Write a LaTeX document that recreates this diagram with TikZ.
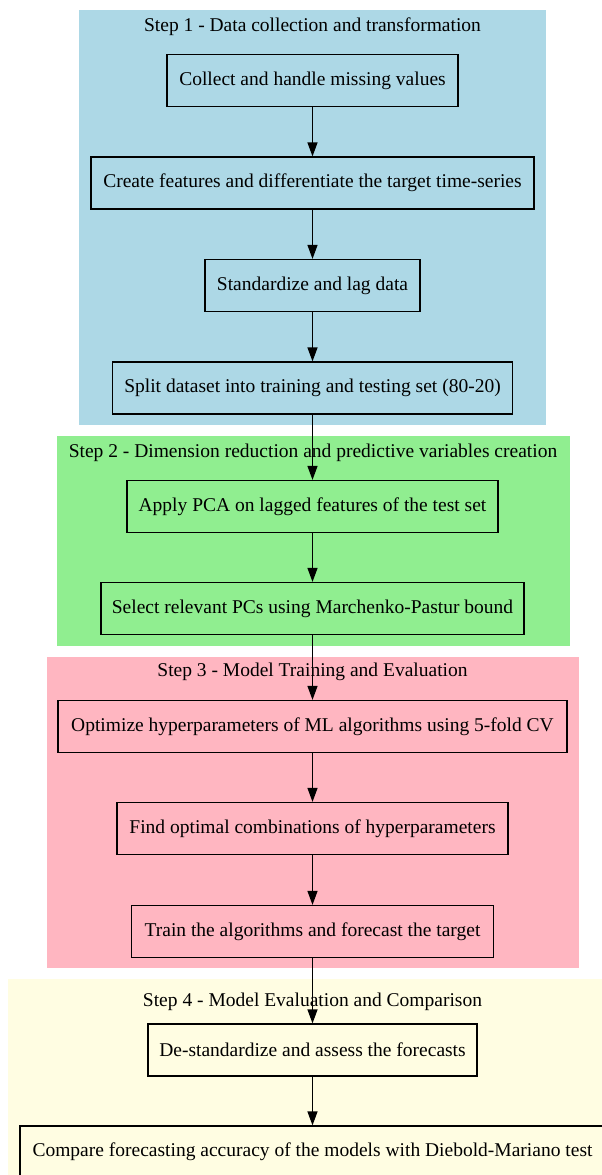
\documentclass[tikz,border=0pt]{standalone}
\usepackage{fontspec}
\setmainfont{Liberation Serif}
\usetikzlibrary{arrows.meta}
\definecolor{stepblue}{HTML}{ADD8E6}
\definecolor{stepgreen}{HTML}{90EE90}
\definecolor{steppink}{HTML}{FFB6C1}
\definecolor{stepyellow}{HTML}{FFFDE2}
\newcommand\flowtxt{\fontsize{19.5}{23}\selectfont}

\begin{document}
\begin{tikzpicture}[x=1pt,y=-1pt,
					stepbox/.style={draw,line width=1.2pt,minimum height=52pt,inner sep=0pt,font=\flowtxt},
					steptitle/.style={font=\flowtxt,inner sep=0pt},
					flow/.style={-{Triangle[length=14pt,width=10pt]},line width=1.2pt}]
					\useasboundingbox (0,0) rectangle (602,1175);

					\fill[stepblue] (79,10) rectangle (546,425);
					\fill[stepgreen] (57,436) rectangle (570,646);
					\fill[steppink] (47,657) rectangle (579,968);
					\fill[stepyellow] (8,979) rectangle (602,1175);

					\node[steptitle] (title1) at (312.5,27) {Step 1 - Data collection and transformation};
					\node[steptitle] (title2) at (313,453) {Step 2 - Dimension reduction and predictive variables creation};
					\node[steptitle] (title3) at (312.5,672) {Step 3 - Model Training and Evaluation};
					\node[steptitle] (title4) at (312.5,1002) {Step 4 - Model Evaluation and Comparison};

					\node[stepbox,minimum width=291pt] (collect) at (312.5,80.5) {Collect and handle missing values};
					\node[stepbox,minimum width=443pt] (features) at (312.5,183) {Create features and differentiate the target time-series};
					\node[stepbox,minimum width=215pt] (standard) at (312.5,285.5) {Standardize and lag data};
					\node[stepbox,minimum width=400pt] (split) at (312.5,388) {Split dataset into training and testing set (80-20)};
					\node[stepbox,minimum width=371pt] (pca) at (312.5,506.5) {Apply PCA on lagged features of the test set};
					\node[stepbox,minimum width=423pt] (select) at (312.5,608.5) {Select relevant PCs using Marchenko-Pastur bound};
					\node[stepbox,minimum width=509pt] (optimize) at (312.5,726.5) {Optimize hyperparameters of ML algorithms using 5-fold CV};
					\node[stepbox,minimum width=391pt] (combine) at (312.5,828.5) {Find optimal combinations of hyperparameters};
					\node[stepbox,minimum width=362pt] (train) at (312.5,931.5) {Train the algorithms and forecast the target};
					\node[stepbox,minimum width=329pt] (destd) at (312.5,1050) {De-standardize and assess the forecasts};
					\node[stepbox,minimum width=585pt] (compare) at (312.5,1152) {Compare forecasting accuracy of the models with Diebold-Mariano test};

					\draw[flow] (collect) -- (features);
					\draw[flow] (features) -- (standard);
					\draw[flow] (standard) -- (split);
					\draw[flow] (split) -- (pca);
					\draw[flow] (pca) -- (select);
					\draw[flow] (select) -- (optimize);
					\draw[flow] (optimize) -- (combine);
					\draw[flow] (combine) -- (train);
					\draw[flow] (train) -- (destd);
					\draw[flow] (destd) -- (compare);
				\end{tikzpicture}
\end{document}
